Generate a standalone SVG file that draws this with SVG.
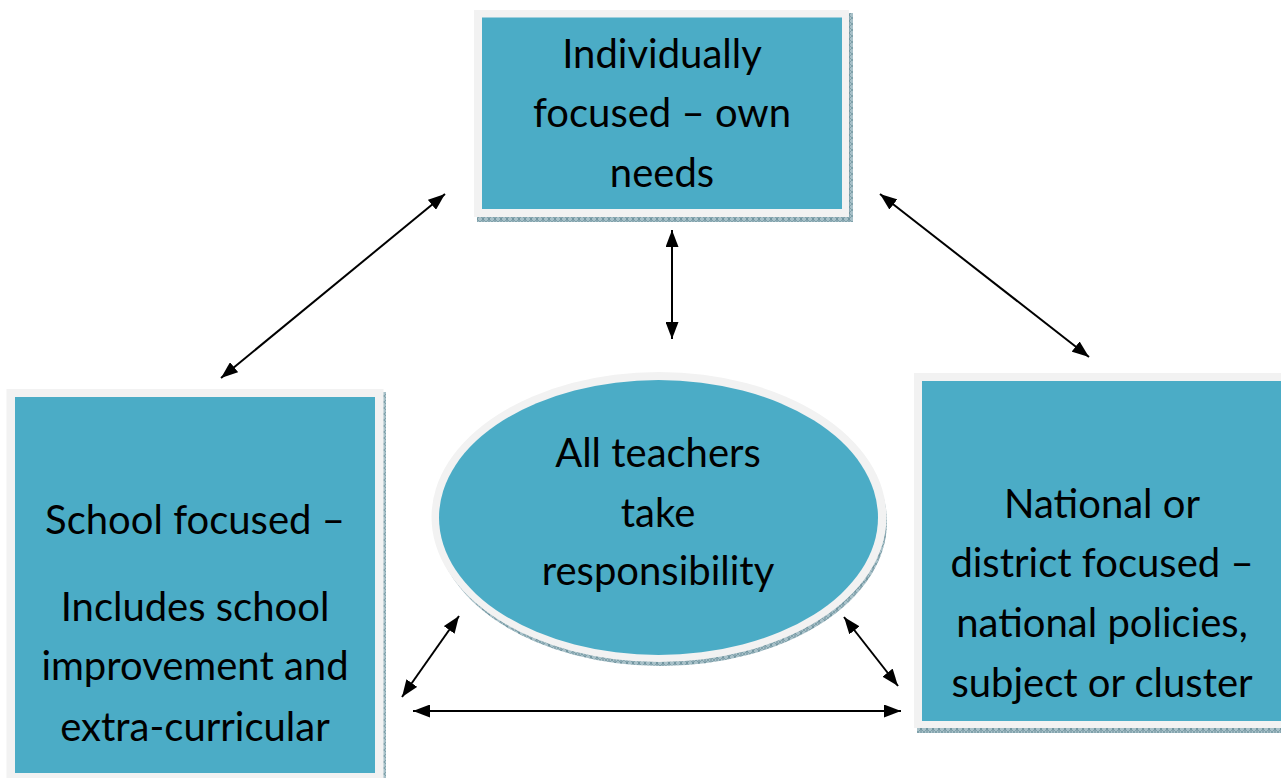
<svg xmlns="http://www.w3.org/2000/svg" width="1281" height="778" viewBox="0 0 1281 778">
<style>
.frame{fill:#F2F2F2}
.fill{fill:#4BACC6}
.shadow{fill:url(#hatch)}
.t{font-family:Lato,"Open Sans",sans-serif;font-size:40px;fill:#000;text-anchor:middle}
.c{stroke:#000;stroke-width:2;fill:none;marker-start:url(#ah);marker-end:url(#ah)}
</style>
<defs>
<pattern id="hatch" width="6" height="6" patternUnits="userSpaceOnUse">
<rect width="6" height="6" fill="#A7C0C8"/>
<path d="M0,0 L6,6 M6,0 L0,6" stroke="#6E939E" stroke-width="0.7"/>
<path d="M3,0 V6" stroke="#5E8490" stroke-width="0.8"/>
</pattern>
<marker id="ah" viewBox="0 0 17 13" refX="17" refY="6.5" markerWidth="17" markerHeight="13" markerUnits="userSpaceOnUse" orient="auto-start-reverse">
<path d="M0,0 L17,6.5 L0,13 z" fill="#000"/>
</marker>
</defs>
<rect width="1281" height="778" fill="#fff"/>

<g id="node-individual">
<rect class="shadow" x="477" y="13" width="376" height="209"/>
<rect class="frame" x="474" y="10" width="375" height="207"/>
<rect class="fill" x="482" y="17.5" width="360" height="191.5"/>
<text class="t" x="662" y="68">Individually</text>
<text class="t" x="662" y="127">focused – own</text>
<text class="t" x="662" y="187">needs</text>
</g>

<g id="node-school">
<rect class="shadow" x="9" y="392" width="377" height="390"/>
<rect class="frame" x="6.5" y="389" width="377" height="389"/>
<rect class="fill" x="15" y="397" width="360" height="376"/>
<text class="t" x="195" y="534">School focused –</text>
<text class="t" x="195" y="621">Includes school</text>
<text class="t" x="195" y="680">improvement and</text>
<text class="t" x="195" y="741">extra-curricular</text>
</g>

<g id="node-national">
<rect class="shadow" x="917" y="377" width="370" height="356"/>
<rect class="frame" x="914" y="373" width="372" height="355"/>
<rect class="fill" x="922" y="381" width="364" height="340"/>
<text class="t" x="1102" y="518">National or</text>
<text class="t" x="1102" y="577">district focused –</text>
<text class="t" x="1102" y="637">national policies,</text>
<text class="t" x="1102" y="697">subject or cluster</text>
</g>

<g id="node-all">
<ellipse class="shadow" cx="661" cy="522" rx="226" ry="144"/>
<ellipse class="frame" cx="659" cy="517" rx="227.5" ry="145"/>
<ellipse class="fill" cx="658.5" cy="517.5" rx="219.5" ry="137.5"/>
<text class="t" x="658" y="467">All teachers</text>
<text class="t" x="658" y="527">take</text>
<text class="t" x="658" y="585">responsibility</text>
</g>

<g id="connectors">
<line class="c" x1="221" y1="378" x2="445" y2="194"/>
<line class="c" x1="880" y1="194" x2="1089" y2="357"/>
<line class="c" x1="672" y1="230" x2="672" y2="339"/>
<line class="c" x1="402" y1="697" x2="459" y2="616"/>
<line class="c" x1="844" y1="617" x2="898" y2="686"/>
<line class="c" x1="413" y1="711" x2="901" y2="711"/>
</g>
</svg>
